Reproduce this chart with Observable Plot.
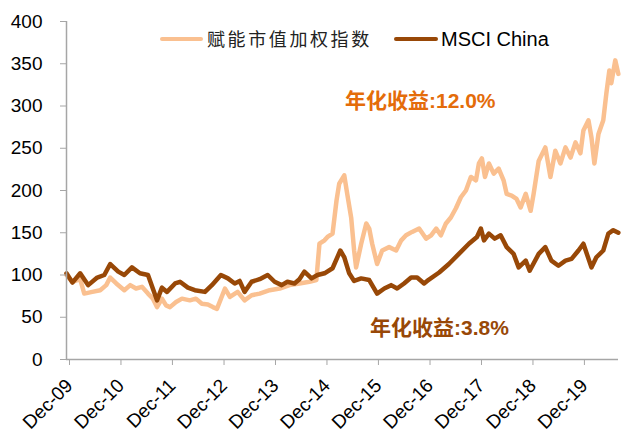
<!DOCTYPE html>
<html><head><meta charset="utf-8">
<script src="https://cdn.jsdelivr.net/npm/d3@7"></script>
<script src="https://cdn.jsdelivr.net/npm/@observablehq/plot@0.6"></script>
<style>
body{margin:0;background:#fff;}
#wrap{position:relative;width:624px;height:432px;overflow:hidden;font-family:"Liberation Sans",Arial,sans-serif;}
#wrap svg{position:absolute;left:0;top:0;}
.sw{position:absolute;height:4px;border-radius:2px;}
.lt{position:absolute;white-space:nowrap;line-height:1;}
</style></head><body><div id="wrap"></div>
<script>
const seriesNames = ["赋能市值加权指数", "MSCI China"];
const seriesColors = ["#FAC090", "#984807"];
const returnLabels = ["年化收益:12.0%", "年化收益:3.8%"];
const returnColors = ["#E46C0A", "#984807"];
const tickLabels = ["Dec-09","Dec-10","Dec-11","Dec-12","Dec-13","Dec-14","Dec-15","Dec-16","Dec-17","Dec-18","Dec-19"];
const yTicks = [0,50,100,150,200,250,300,350,400];

const empDates = ["2009-12-01","2010-01-12","2010-03-08","2010-04-06","2010-06-02","2010-07-28","2010-09-09","2010-10-07","2010-11-19","2011-01-15","2011-02-26","2011-04-08","2011-05-20","2011-07-02","2011-08-06","2011-09-04","2011-10-09","2011-11-07","2011-12-05","2012-01-17","2012-02-28","2012-04-24","2012-06-06","2012-07-18","2012-08-30","2012-10-04","2012-11-02","2012-12-29","2013-02-02","2013-03-29","2013-05-17","2013-07-06","2013-09-01","2013-11-11","2014-01-21","2014-04-01","2014-06-10","2014-08-20","2014-10-08","2014-10-30","2014-12-05","2014-12-26","2015-01-31","2015-02-28","2015-03-19","2015-04-24","2015-05-15","2015-06-12","2015-07-03","2015-07-17","2015-08-22","2015-09-27","2015-10-18","2015-11-08","2015-12-13","2016-01-18","2016-03-07","2016-04-26","2016-06-01","2016-07-05","2016-08-17","2016-10-06","2016-11-25","2016-12-30","2017-02-04","2017-03-09","2017-04-14","2017-05-19","2017-06-24","2017-07-29","2017-09-03","2017-10-08","2017-11-13","2017-12-04","2017-12-25","2018-01-16","2018-02-13","2018-03-19","2018-04-23","2018-05-28","2018-06-19","2018-07-24","2018-08-28","2018-09-26","2018-11-01","2018-12-06","2018-12-27","2019-02-01","2019-03-20","2019-04-25","2019-05-30","2019-07-05","2019-08-10","2019-09-15","2019-10-20","2019-11-24","2019-12-15","2020-01-20","2020-02-10","2020-03-02","2020-03-31","2020-05-04","2020-05-26","2020-06-16","2020-06-30","2020-07-28","2020-08-19"];
const empValues = [100,92,95,78,80,82,88,97,90,82,88,84,86,78,72,62,72,64,62,68,72,70,72,66,65,62,60,84,74,80,70,76,78,82,84,88,90,92,94,137,141,145,149,188,208,218,196,168,129,109,137,161,155,137,113,129,133,129,141,147,151,155,143,147,155,147,161,168,179,192,200,216,212,232,238,216,232,220,226,212,196,194,190,180,196,176,196,235,251,216,247,232,251,239,257,244,271,283,263,232,267,283,315,342,327,354,338];

const msciDates = ["2009-12-01","2010-01-12","2010-03-08","2010-05-04","2010-07-07","2010-08-26","2010-10-07","2010-12-03","2011-01-15","2011-03-10","2011-05-06","2011-07-02","2011-09-04","2011-10-09","2011-11-14","2012-01-10","2012-02-14","2012-04-10","2012-05-29","2012-08-09","2012-09-27","2012-11-30","2013-01-19","2013-03-08","2013-04-12","2013-05-17","2013-07-06","2013-09-01","2013-10-28","2013-12-16","2014-02-04","2014-03-17","2014-05-06","2014-06-10","2014-07-15","2014-09-04","2014-10-16","2014-12-05","2015-01-31","2015-03-27","2015-04-24","2015-05-29","2015-07-03","2015-08-22","2015-10-18","2015-12-13","2016-02-02","2016-03-21","2016-05-03","2016-06-21","2016-08-10","2016-09-22","2016-11-10","2016-12-02","2017-02-25","2017-05-05","2017-07-15","2017-09-24","2017-11-20","2017-12-18","2018-01-09","2018-02-13","2018-03-26","2018-05-07","2018-06-19","2018-08-07","2018-09-12","2018-11-01","2018-11-29","2019-02-01","2019-03-20","2019-05-02","2019-06-21","2019-08-10","2019-09-22","2019-11-10","2019-12-15","2020-02-10","2020-03-16","2020-05-04","2020-06-09","2020-07-14","2020-08-19"];
const msciValues = [102,91,102,88,97,100,113,104,100,109,102,100,70,85,80,90,92,85,82,80,88,100,96,90,93,80,92,95,100,92,88,92,90,95,104,96,100,102,108,129,121,102,93,96,94,78,84,88,84,90,97,97,90,93,103,113,125,137,145,155,141,149,143,147,133,125,109,117,105,125,133,117,111,117,119,129,137,109,121,129,149,153,150];

const parse = d3.utcParse("%Y-%m-%d");
const emp = empDates.map((d, i) => ({date: parse(d), value: empValues[i]}));
const msci = msciDates.map((d, i) => ({date: parse(d), value: msciValues[i]}));
const tickDates = tickLabels.map(d3.utcParse("%b-%y"));

const axisColor = "#a6a6a6";
const chart = Plot.plot({
  width: 624, height: 432,
  marginLeft: 66, marginRight: 6, marginTop: 21, marginBottom: 73,
  style: {fontFamily: "'Liberation Sans', Arial, sans-serif", fontSize: "19px", color: "#000", background: "transparent"},
  x: {type: "utc", domain: [parse("2009-12-01"), parse("2020-08-20")]},
  y: {domain: [0, 400]},
  marks: [
    Plot.lineY(emp, {x: "date", y: "value", stroke: seriesColors[0], strokeWidth: 4.5, strokeLinejoin: "round"}),
    Plot.lineY(msci, {x: "date", y: "value", stroke: seriesColors[1], strokeWidth: 4.5, strokeLinejoin: "round"}),
    Plot.axisY({ticks: yTicks, tickSize: 6, tickPadding: 18, stroke: axisColor, fill: "#000", label: null}),
    Plot.axisX({ticks: tickDates, tickFormat: d3.utcFormat("%b-%y"), tickSize: 6, tickPadding: 17, dx: 3, tickRotate: -45, stroke: axisColor, fill: "#000", label: null}),
    Plot.ruleX([parse("2009-12-01")], {stroke: axisColor, strokeWidth: 1.5}),
    Plot.ruleY([0], {stroke: axisColor, strokeWidth: 1.5})
  ]
});
const wrap = document.getElementById("wrap");
wrap.appendChild(chart);

function add(cls, css, text) {
  const el = document.createElement("div");
  el.className = cls;
  Object.assign(el.style, css);
  if (text) el.textContent = text;
  wrap.appendChild(el);
}
add("sw", {left: "160px", top: "37px", width: "43px", background: seriesColors[0]});
add("lt", {left: "207px", top: "29px", fontFamily: "'Noto Sans CJK SC'", fontSize: "18px", letterSpacing: "2.6px", color: "#222"}, seriesNames[0]);
add("sw", {left: "394px", top: "37px", width: "44px", background: seriesColors[1]});
add("lt", {left: "441px", top: "29px", fontSize: "20px", color: "#000"}, seriesNames[1]);
add("lt", {left: "345px", top: "90px", fontSize: "21px", fontWeight: "bold", color: returnColors[0], fontFamily: "'Liberation Sans','Noto Sans CJK SC',sans-serif"}, returnLabels[0]);
add("lt", {left: "370px", top: "317px", fontSize: "21px", fontWeight: "bold", color: returnColors[1], fontFamily: "'Liberation Sans','Noto Sans CJK SC',sans-serif"}, returnLabels[1]);
</script></body></html>
